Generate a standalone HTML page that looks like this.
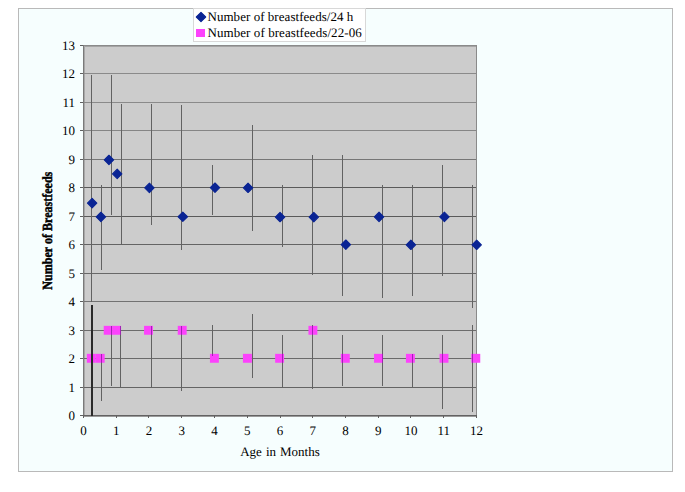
<!DOCTYPE html>
<html><head><meta charset="utf-8"><style>
html,body{margin:0;padding:0;background:#fff;width:685px;height:492px;overflow:hidden}
svg{display:block}
text{font-family:"Liberation Serif",serif;fill:#000;text-rendering:geometricPrecision;stroke:#000;stroke-width:0px}
</style></head><body>
<svg width="685" height="492" viewBox="0 0 685 492" shape-rendering="crispEdges">

<rect x="18.5" y="8.5" width="654" height="463" fill="#f6fefe" stroke="#b9b9b9" stroke-width="1"/>
<rect x="83" y="45" width="394" height="371" fill="#cccccc"/>
<line x1="83" y1="46.5" x2="477" y2="46.5" stroke="#a4a4a4"/>
<line x1="84.5" y1="45" x2="84.5" y2="416" stroke="#a8a8a8"/>
<line x1="84" y1="387.5" x2="476" y2="387.5" stroke="#646464" stroke-width="1"/>
<line x1="84" y1="358.5" x2="476" y2="358.5" stroke="#6a6a6a" stroke-width="1"/>
<line x1="84" y1="330.5" x2="476" y2="330.5" stroke="#6c6c6c" stroke-width="1"/>
<line x1="84" y1="301.5" x2="476" y2="301.5" stroke="#727272" stroke-width="1"/>
<line x1="84" y1="273.5" x2="476" y2="273.5" stroke="#686868" stroke-width="1"/>
<line x1="84" y1="244.5" x2="476" y2="244.5" stroke="#646464" stroke-width="1"/>
<line x1="84" y1="216.5" x2="476" y2="216.5" stroke="#5a5a5a" stroke-width="1"/>
<line x1="84" y1="187.5" x2="476" y2="187.5" stroke="#5a5a5a" stroke-width="1"/>
<line x1="84" y1="159.5" x2="476" y2="159.5" stroke="#767676" stroke-width="1"/>
<line x1="84" y1="130.5" x2="476" y2="130.5" stroke="#858585" stroke-width="1"/>
<line x1="84" y1="102.5" x2="476" y2="102.5" stroke="#8a8a8a" stroke-width="1"/>
<line x1="84" y1="73.5" x2="476" y2="73.5" stroke="#8a8a8a" stroke-width="1"/>
<line x1="83" y1="45.5" x2="477" y2="45.5" stroke="#8a8a8a"/>
<line x1="476.5" y1="45" x2="476.5" y2="416" stroke="#8a8a8a"/>
<line x1="83.5" y1="45" x2="83.5" y2="416" stroke="#7a7a7a"/>
<line x1="83" y1="416.5" x2="477" y2="416.5" stroke="#9a9a9a"/>
<line x1="83" y1="415.5" x2="477" y2="415.5" stroke="#626262"/>
<line x1="80" y1="45.5" x2="83" y2="45.5" stroke="#606060"/>
<line x1="80" y1="73.5" x2="83" y2="73.5" stroke="#606060"/>
<line x1="80" y1="102.5" x2="83" y2="102.5" stroke="#606060"/>
<line x1="80" y1="130.5" x2="83" y2="130.5" stroke="#606060"/>
<line x1="80" y1="159.5" x2="83" y2="159.5" stroke="#606060"/>
<line x1="80" y1="187.5" x2="83" y2="187.5" stroke="#606060"/>
<line x1="80" y1="216.5" x2="83" y2="216.5" stroke="#606060"/>
<line x1="80" y1="244.5" x2="83" y2="244.5" stroke="#606060"/>
<line x1="80" y1="273.5" x2="83" y2="273.5" stroke="#606060"/>
<line x1="80" y1="301.5" x2="83" y2="301.5" stroke="#606060"/>
<line x1="80" y1="330.5" x2="83" y2="330.5" stroke="#606060"/>
<line x1="80" y1="358.5" x2="83" y2="358.5" stroke="#606060"/>
<line x1="80" y1="387.5" x2="83" y2="387.5" stroke="#606060"/>
<line x1="80" y1="415.5" x2="83" y2="415.5" stroke="#606060"/>
<line x1="83.5" y1="416" x2="83.5" y2="418" stroke="#606060"/>
<line x1="116.5" y1="416" x2="116.5" y2="418" stroke="#606060"/>
<line x1="148.5" y1="416" x2="148.5" y2="418" stroke="#606060"/>
<line x1="181.5" y1="416" x2="181.5" y2="418" stroke="#606060"/>
<line x1="214.5" y1="416" x2="214.5" y2="418" stroke="#606060"/>
<line x1="247.5" y1="416" x2="247.5" y2="418" stroke="#606060"/>
<line x1="280.5" y1="416" x2="280.5" y2="418" stroke="#606060"/>
<line x1="312.5" y1="416" x2="312.5" y2="418" stroke="#606060"/>
<line x1="345.5" y1="416" x2="345.5" y2="418" stroke="#606060"/>
<line x1="378.5" y1="416" x2="378.5" y2="418" stroke="#606060"/>
<line x1="410.5" y1="416" x2="410.5" y2="418" stroke="#606060"/>
<line x1="443.5" y1="416" x2="443.5" y2="418" stroke="#606060"/>
<line x1="476.5" y1="416" x2="476.5" y2="418" stroke="#606060"/>
<text x="75" y="50" font-size="13" text-anchor="end">13</text>
<text x="75" y="78" font-size="13" text-anchor="end">12</text>
<text x="75" y="107" font-size="13" text-anchor="end">11</text>
<text x="75" y="135" font-size="13" text-anchor="end">10</text>
<text x="75" y="164" font-size="13" text-anchor="end">9</text>
<text x="75" y="192" font-size="13" text-anchor="end">8</text>
<text x="75" y="221" font-size="13" text-anchor="end">7</text>
<text x="75" y="249" font-size="13" text-anchor="end">6</text>
<text x="75" y="278" font-size="13" text-anchor="end">5</text>
<text x="75" y="306" font-size="13" text-anchor="end">4</text>
<text x="75" y="335" font-size="13" text-anchor="end">3</text>
<text x="75" y="363" font-size="13" text-anchor="end">2</text>
<text x="75" y="392" font-size="13" text-anchor="end">1</text>
<text x="75" y="420" font-size="13" text-anchor="end">0</text>
<text x="83.50" y="435" font-size="13" text-anchor="middle">0</text>
<text x="116.25" y="435" font-size="13" text-anchor="middle">1</text>
<text x="149.00" y="435" font-size="13" text-anchor="middle">2</text>
<text x="181.75" y="435" font-size="13" text-anchor="middle">3</text>
<text x="214.50" y="435" font-size="13" text-anchor="middle">4</text>
<text x="247.25" y="435" font-size="13" text-anchor="middle">5</text>
<text x="280.00" y="435" font-size="13" text-anchor="middle">6</text>
<text x="312.75" y="435" font-size="13" text-anchor="middle">7</text>
<text x="345.50" y="435" font-size="13" text-anchor="middle">8</text>
<text x="378.25" y="435" font-size="13" text-anchor="middle">9</text>
<text x="411.00" y="435" font-size="13" text-anchor="middle">10</text>
<text x="443.75" y="435" font-size="13" text-anchor="middle">11</text>
<text x="476.50" y="435" font-size="13" text-anchor="middle">12</text>
<text x="280" y="456" font-size="13" text-anchor="middle" word-spacing="0.8">Age in Months</text>
<text transform="translate(52,230.7) rotate(-90)" x="0" y="0" font-size="14" font-weight="bold" text-anchor="middle" textLength="118" lengthAdjust="spacingAndGlyphs" style="stroke-width:0.45px">Number of Breastfeeds</text>
<rect x="86.85" y="353.85" width="8.9" height="8.9" fill="#fc42fc" shape-rendering="geometricPrecision"/>
<rect x="95.75" y="353.85" width="8.9" height="8.9" fill="#fc42fc" shape-rendering="geometricPrecision"/>
<rect x="103.75" y="325.85" width="8.9" height="8.9" fill="#fc42fc" shape-rendering="geometricPrecision"/>
<rect x="112.15" y="325.85" width="8.9" height="8.9" fill="#fc42fc" shape-rendering="geometricPrecision"/>
<rect x="144.05" y="325.85" width="8.9" height="8.9" fill="#fc42fc" shape-rendering="geometricPrecision"/>
<rect x="177.75" y="325.85" width="8.9" height="8.9" fill="#fc42fc" shape-rendering="geometricPrecision"/>
<rect x="209.95" y="353.85" width="8.9" height="8.9" fill="#fc42fc" shape-rendering="geometricPrecision"/>
<rect x="242.95" y="353.85" width="8.9" height="8.9" fill="#fc42fc" shape-rendering="geometricPrecision"/>
<rect x="275.15" y="353.85" width="8.9" height="8.9" fill="#fc42fc" shape-rendering="geometricPrecision"/>
<rect x="308.45" y="325.85" width="8.9" height="8.9" fill="#fc42fc" shape-rendering="geometricPrecision"/>
<rect x="340.85" y="353.85" width="8.9" height="8.9" fill="#fc42fc" shape-rendering="geometricPrecision"/>
<rect x="374.05" y="353.85" width="8.9" height="8.9" fill="#fc42fc" shape-rendering="geometricPrecision"/>
<rect x="405.95" y="353.85" width="8.9" height="8.9" fill="#fc42fc" shape-rendering="geometricPrecision"/>
<rect x="439.55" y="353.85" width="8.9" height="8.9" fill="#fc42fc" shape-rendering="geometricPrecision"/>
<rect x="471.35" y="353.85" width="8.9" height="8.9" fill="#fc42fc" shape-rendering="geometricPrecision"/>
<line x1="91.5" y1="75" x2="91.5" y2="302" stroke="#626262"/>
<line x1="101.5" y1="185" x2="101.5" y2="270" stroke="#626262"/>
<line x1="111.5" y1="75" x2="111.5" y2="215" stroke="#626262"/>
<line x1="121.5" y1="104" x2="121.5" y2="245" stroke="#626262"/>
<line x1="151.5" y1="104" x2="151.5" y2="225" stroke="#626262"/>
<line x1="181.5" y1="105" x2="181.5" y2="250" stroke="#626262"/>
<line x1="212.5" y1="165" x2="212.5" y2="215" stroke="#626262"/>
<line x1="252.5" y1="125" x2="252.5" y2="231" stroke="#626262"/>
<line x1="282.5" y1="185" x2="282.5" y2="247" stroke="#626262"/>
<line x1="312.5" y1="155" x2="312.5" y2="275" stroke="#626262"/>
<line x1="342.5" y1="155" x2="342.5" y2="296" stroke="#626262"/>
<line x1="382.5" y1="185" x2="382.5" y2="298" stroke="#626262"/>
<line x1="412.5" y1="185" x2="412.5" y2="296" stroke="#626262"/>
<line x1="442.5" y1="165" x2="442.5" y2="276" stroke="#626262"/>
<line x1="472.5" y1="185" x2="472.5" y2="308" stroke="#626262"/>
<line x1="101.5" y1="354" x2="101.5" y2="401" stroke="#626262"/>
<line x1="111.5" y1="326" x2="111.5" y2="386" stroke="#626262"/>
<line x1="120.5" y1="326" x2="120.5" y2="387" stroke="#626262"/>
<line x1="151.5" y1="326" x2="151.5" y2="388" stroke="#626262"/>
<line x1="181.5" y1="326" x2="181.5" y2="391" stroke="#626262"/>
<line x1="212.5" y1="325" x2="212.5" y2="356" stroke="#626262"/>
<line x1="252.5" y1="314" x2="252.5" y2="378" stroke="#626262"/>
<line x1="282.5" y1="335" x2="282.5" y2="388" stroke="#626262"/>
<line x1="312.5" y1="325" x2="312.5" y2="389" stroke="#626262"/>
<line x1="342.5" y1="335" x2="342.5" y2="386" stroke="#626262"/>
<line x1="382.5" y1="335" x2="382.5" y2="386" stroke="#626262"/>
<line x1="412.5" y1="354" x2="412.5" y2="387" stroke="#626262"/>
<line x1="442.5" y1="335" x2="442.5" y2="409" stroke="#626262"/>
<line x1="472.5" y1="325" x2="472.5" y2="412" stroke="#626262"/>
<rect x="91" y="305" width="2" height="111" fill="#2a2a2a"/>
<line x1="101.5" y1="354.00" x2="101.5" y2="362.75" stroke="#a024b4" shape-rendering="geometricPrecision"/>
<line x1="111.5" y1="326.00" x2="111.5" y2="334.75" stroke="#a024b4" shape-rendering="geometricPrecision"/>
<line x1="120.5" y1="326.00" x2="120.5" y2="334.75" stroke="#a024b4" shape-rendering="geometricPrecision"/>
<line x1="151.5" y1="326.00" x2="151.5" y2="334.75" stroke="#a024b4" shape-rendering="geometricPrecision"/>
<line x1="181.5" y1="326.00" x2="181.5" y2="334.75" stroke="#a024b4" shape-rendering="geometricPrecision"/>
<line x1="212.5" y1="353.85" x2="212.5" y2="356.00" stroke="#a024b4" shape-rendering="geometricPrecision"/>
<line x1="282.5" y1="353.85" x2="282.5" y2="362.75" stroke="#a024b4" shape-rendering="geometricPrecision"/>
<line x1="312.5" y1="325.85" x2="312.5" y2="334.75" stroke="#a024b4" shape-rendering="geometricPrecision"/>
<line x1="342.5" y1="353.85" x2="342.5" y2="362.75" stroke="#a024b4" shape-rendering="geometricPrecision"/>
<line x1="382.5" y1="353.85" x2="382.5" y2="362.75" stroke="#a024b4" shape-rendering="geometricPrecision"/>
<line x1="412.5" y1="354.00" x2="412.5" y2="362.75" stroke="#a024b4" shape-rendering="geometricPrecision"/>
<line x1="442.5" y1="353.85" x2="442.5" y2="362.75" stroke="#a024b4" shape-rendering="geometricPrecision"/>
<line x1="472.5" y1="353.85" x2="472.5" y2="362.75" stroke="#a024b4" shape-rendering="geometricPrecision"/>
<path d="M92.15 198.40 L96.85 203.10 L92.15 207.80 L87.45 203.10Z" fill="#0a2494" stroke="#0a2494" stroke-width="1.1" stroke-linejoin="round" shape-rendering="geometricPrecision"/>
<path d="M100.90 212.25 L105.60 216.95 L100.90 221.65 L96.20 216.95Z" fill="#0a2494" stroke="#0a2494" stroke-width="1.1" stroke-linejoin="round" shape-rendering="geometricPrecision"/>
<path d="M108.95 155.25 L113.65 159.95 L108.95 164.65 L104.25 159.95Z" fill="#0a2494" stroke="#0a2494" stroke-width="1.1" stroke-linejoin="round" shape-rendering="geometricPrecision"/>
<path d="M117.20 169.20 L121.90 173.90 L117.20 178.60 L112.50 173.90Z" fill="#0a2494" stroke="#0a2494" stroke-width="1.1" stroke-linejoin="round" shape-rendering="geometricPrecision"/>
<path d="M149.40 183.15 L154.10 187.85 L149.40 192.55 L144.70 187.85Z" fill="#0a2494" stroke="#0a2494" stroke-width="1.1" stroke-linejoin="round" shape-rendering="geometricPrecision"/>
<path d="M182.80 212.05 L187.50 216.75 L182.80 221.45 L178.10 216.75Z" fill="#0a2494" stroke="#0a2494" stroke-width="1.1" stroke-linejoin="round" shape-rendering="geometricPrecision"/>
<path d="M215.00 183.00 L219.70 187.70 L215.00 192.40 L210.30 187.70Z" fill="#0a2494" stroke="#0a2494" stroke-width="1.1" stroke-linejoin="round" shape-rendering="geometricPrecision"/>
<path d="M248.05 183.10 L252.75 187.80 L248.05 192.50 L243.35 187.80Z" fill="#0a2494" stroke="#0a2494" stroke-width="1.1" stroke-linejoin="round" shape-rendering="geometricPrecision"/>
<path d="M280.05 212.35 L284.75 217.05 L280.05 221.75 L275.35 217.05Z" fill="#0a2494" stroke="#0a2494" stroke-width="1.1" stroke-linejoin="round" shape-rendering="geometricPrecision"/>
<path d="M313.80 212.40 L318.50 217.10 L313.80 221.80 L309.10 217.10Z" fill="#0a2494" stroke="#0a2494" stroke-width="1.1" stroke-linejoin="round" shape-rendering="geometricPrecision"/>
<path d="M345.85 240.00 L350.55 244.70 L345.85 249.40 L341.15 244.70Z" fill="#0a2494" stroke="#0a2494" stroke-width="1.1" stroke-linejoin="round" shape-rendering="geometricPrecision"/>
<path d="M379.05 212.20 L383.75 216.90 L379.05 221.60 L374.35 216.90Z" fill="#0a2494" stroke="#0a2494" stroke-width="1.1" stroke-linejoin="round" shape-rendering="geometricPrecision"/>
<path d="M410.90 240.10 L415.60 244.80 L410.90 249.50 L406.20 244.80Z" fill="#0a2494" stroke="#0a2494" stroke-width="1.1" stroke-linejoin="round" shape-rendering="geometricPrecision"/>
<path d="M444.40 212.20 L449.10 216.90 L444.40 221.60 L439.70 216.90Z" fill="#0a2494" stroke="#0a2494" stroke-width="1.1" stroke-linejoin="round" shape-rendering="geometricPrecision"/>
<path d="M476.70 240.10 L481.40 244.80 L476.70 249.50 L472.00 244.80Z" fill="#0a2494" stroke="#0a2494" stroke-width="1.1" stroke-linejoin="round" shape-rendering="geometricPrecision"/>
<rect x="193.5" y="8.5" width="172" height="33" fill="#ffffff" stroke="#d8d8d8"/>
<path d="M201 12.3 L205.7 17 L201 21.7 L196.3 17Z" fill="#0a2494" stroke="#0a2494" stroke-width="1.1" stroke-linejoin="round" shape-rendering="geometricPrecision"/>
<rect x="196" y="28.5" width="8.5" height="8.5" fill="#fc42fc"/>
<text x="207.5" y="20.7" font-size="13" textLength="145.8">Number of breastfeeds/24 h</text>
<text x="207.5" y="37.4" font-size="13" textLength="154.2">Number of breastfeeds/22-06</text>
</svg></body></html>
